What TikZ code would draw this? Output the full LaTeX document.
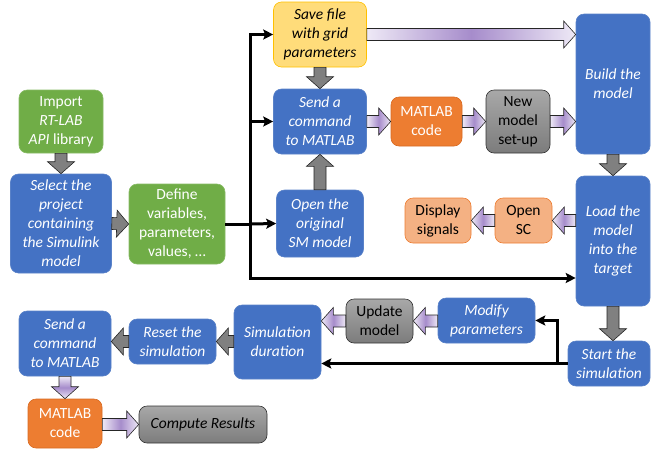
\documentclass[tikz,border=0pt]{standalone}
\usepackage{fontspec}
\setmainfont{Carlito}
\usetikzlibrary{positioning,calc,arrows.meta}

\definecolor{boxblue}{HTML}{4472C4}
\definecolor{blueline}{HTML}{5A82C8}
\definecolor{boxgreen}{HTML}{70AD47}
\definecolor{greenline}{HTML}{88BB66}
\definecolor{boxorange}{HTML}{ED7D31}
\definecolor{orangeline}{HTML}{D86A22}
\definecolor{boxsalmon}{HTML}{F4B183}
\definecolor{boxyellow}{HTML}{FFDC7A}
\definecolor{yellowline}{HTML}{FFC000}
\definecolor{grayhi}{HTML}{A8A8A8}
\definecolor{graylo}{HTML}{7C7C7C}
\definecolor{purlo}{HTML}{EEE9F6}
\definecolor{purhi}{HTML}{A68CCB}
\definecolor{arrgray}{HTML}{808080}

% block arrow from #2 to #3
\newcommand{\blockarr}[3][grayarr]{%
  \coordinate (ba) at ($(#3)!12pt!(#2)$);
  \path[#1] ($(#2)!6pt!90:(#3)$) -- ($(ba)!6pt!90:(#3)$)
    -- ($(ba)!13.5pt!90:(#3)$) -- (#3) -- ($(ba)!13.5pt!-90:(#3)$)
    -- ($(ba)!6pt!-90:(#3)$) -- ($(#2)!6pt!-90:(#3)$) -- cycle;}

\begin{document}
\begin{tikzpicture}[x=1pt,y=-1pt,
  every node/.style={rounded corners=8pt,align=center,inner sep=1pt,
    font=\fontsize{15.5}{19}\selectfont},
  blue/.style={fill=boxblue,draw=blueline,line width=0.6pt,text=white,font=\fontsize{15.5}{19}\selectfont\itshape},
  green/.style={fill=boxgreen,draw=greenline,line width=0.6pt,text=white},
  orange/.style={fill=boxorange,draw=orangeline,line width=0.6pt,text=white},
  salmon/.style={fill=boxsalmon,draw=boxorange,line width=0.6pt,text=black},
  yellow/.style={fill=boxyellow,draw=yellowline,line width=0.6pt,text=black,font=\fontsize{15.5}{19}\selectfont\itshape},
  grey/.style={top color=grayhi,bottom color=graylo,draw=black!80,line width=0.6pt,text=black},
  grayarr/.style={fill=arrgray,draw=black!85,line width=0.6pt},
  purarr/.style={left color=purlo,right color=purlo,middle color=purhi,draw=black!85,line width=0.6pt},
  purarrv/.style={top color=purlo,bottom color=purlo,middle color=purhi,draw=black!85,line width=0.6pt},
  flow/.style={line width=3pt,-{Stealth[length=10pt,width=10pt,inset=2pt]}}]
  \useasboundingbox (0,0) rectangle (651,451);

  \node[green,minimum width=84pt,minimum height=63pt] (import) at (61,121.5) {Import\\\textit{RT-LAB}\\\textit{API} library};
  \node[blue,minimum width=101pt,minimum height=99pt] (select) at (61,223.5) {Select the\\project\\containing\\the Simulink\\model};
  \node[green,minimum width=96pt,minimum height=80pt] (define) at (177,224) {Define\\variables,\\parameters,\\values, …};
  \node[yellow,minimum width=93pt,minimum height=65pt] (save) at (320,34.5) {Save file\\with grid\\parameters};
  \node[blue,minimum width=93pt,minimum height=65pt] (send) at (320,121.5) {Send a\\command\\to MATLAB};
  \node[blue,minimum width=87pt,minimum height=67pt] (opensm) at (320,223.5) {Open the\\original\\SM model};
  \node[orange,minimum width=71pt,minimum height=49pt] (matlab) at (426.5,121.5) {MATLAB\\code};
  \node[grey,minimum width=64pt,minimum height=63pt] (newmodel) at (518,121.5) {New\\model\\set-up};
  \node[blue,minimum width=74pt,minimum height=140pt] (build) at (613,84) {Build the\\model};
  \node[blue,minimum width=74pt,minimum height=130pt] (load) at (613,241) {Load the\\model\\into the\\target};
  \node[salmon,minimum width=57pt,minimum height=45pt] (opensc) at (523.5,220.5) {Open\\SC};
  \node[salmon,minimum width=66pt,minimum height=45pt] (display) at (438,220.5) {Display\\signals};
  \node[blue,minimum width=82pt,minimum height=45pt] (start) at (609,363.5) {Start the\\simulation};
  \node[blue,minimum width=97pt,minimum height=45pt] (modify) at (486.5,320.5) {Modify\\parameters};
  \node[grey,minimum width=67pt,minimum height=44pt] (update) at (379.5,321) {Update\\model};
  \node[blue,minimum width=87pt,minimum height=74pt] (simdur) at (277.5,342) {Simulation\\duration};
  \node[blue,minimum width=87pt,minimum height=45pt] (reset) at (172.5,341.5) {Reset the\\simulation};
  \node[blue,minimum width=92pt,minimum height=65pt] (send2) at (65,343.5) {Send a\\command\\to MATLAB};
  \node[orange,minimum width=74pt,minimum height=49pt] (matlab2) at (65,423.5) {MATLAB\\code};
  \node[grey,minimum width=128pt,minimum height=37pt,font=\fontsize{15.5}{19}\selectfont\itshape] (compute) at (203,424.5) {Compute Results};

  % black connectors
  \coordinate (jn) at (250,224);
  \coordinate (br) at (557,363.5);
  \draw[line width=3pt] (define.east) -- (jn);
  \draw[flow] (jn) |- (save.west);
  \draw[flow] (jn) |- (send.west);
  \draw[flow] (jn) -- (opensm.west);
  \draw[flow] (jn) |- ([yshift=-37pt]load.west);
  \draw[flow] (start.west) -- (simdur.east |- start.west);
  \draw[flow] (br) |- (modify.east);

  % block arrows
  \blockarr{import.south}{select.north}
  \blockarr{select.east}{define.west}
  \blockarr{save.south}{send.north}
  \blockarr{opensm.north}{send.south}
  \blockarr[purarr]{send.east}{matlab.west}
  \blockarr[purarr]{matlab.east}{newmodel.west}
  \blockarr[purarr]{newmodel.east}{build.west |- newmodel.east}
  \blockarr[purarr]{save.east}{build.west |- save.east}
  \blockarr{build.south}{load.north}
  \blockarr[purarr]{load.west |- opensc.east}{opensc.east}
  \blockarr[purarr]{opensc.west}{display.east}
  \blockarr{load.south}{load.south |- start.north}
  \blockarr[purarr]{modify.west |- update.east}{update.east}
  \blockarr[purarr]{update.west}{simdur.east |- update.west}
  \blockarr{simdur.west |- reset.east}{reset.east}
  \blockarr{reset.west}{send2.east |- reset.west}
  \blockarr[purarrv]{send2.south}{matlab2.north}
  \blockarr[purarr]{matlab2.east |- compute.west}{compute.west}
\end{tikzpicture}
\end{document}
